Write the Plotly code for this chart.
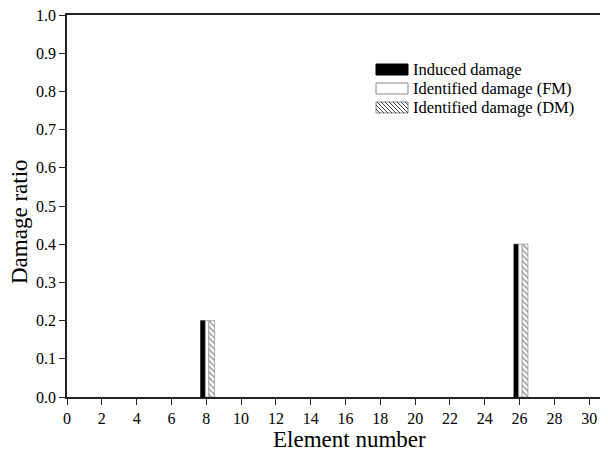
import plotly.graph_objects as go

elements = list(range(1, 31))
induced = [0.0] * 30
induced[7] = 0.2
induced[25] = 0.4
identified_fm = [0.0] * 30
identified_fm[7] = 0.2
identified_fm[25] = 0.4
identified_dm = [0.0] * 30
identified_dm[7] = 0.2
identified_dm[25] = 0.4

series_names = ["Induced damage", "Identified damage (FM)", "Identified damage (DM)"]
x_title = "Element number"
y_title = "Damage ratio"

x_ticks = list(range(0, 31, 2))
y_ticks = [round(i * 0.1, 1) for i in range(11)]

font = "Liberation Serif, Times New Roman, serif"

# page body has an 8px margin; compensate so the plot area lands at x 67..608, y 15..397
BODY = 8
W, H = 608 - BODY, 460 - BODY
ML, MT, MR = 67 - BODY, 15 - BODY, 0
PW, PH = 608 - 67, 397 - 15
MB = H - MT - PH


def nz(vals):
    return [v if v > 0 else None for v in vals]


def px2paper(px, py):
    return (px - 67) / PW, (397 - py) / PH


fig = go.Figure()
fig.add_trace(go.Bar(
    x=elements, y=nz(induced), name=series_names[0],
    marker=dict(color="black", line=dict(color="black", width=0.5)),
    offset=-0.33, width=0.28,
))
fig.add_trace(go.Bar(
    x=elements, y=nz(identified_fm), name=series_names[1],
    marker=dict(color="white", line=dict(color="#999999", width=0.8)),
    offset=-0.05, width=0.2,
))
fig.add_trace(go.Bar(
    x=elements, y=nz(identified_dm), name=series_names[2],
    marker=dict(color="white", line=dict(color="#999999", width=0.8),
                pattern=dict(shape="\\", fgcolor="#222222", bgcolor="white",
                             size=4, solidity=0.35)),
    offset=0.15, width=0.33,
))

# custom legend (wide rectangular keys as in the reference)
shapes = []
annotations = []
key_x0, key_x1 = 376, 408
rows = [(64, 75), (83, 94), (102, 113)]
for i, (top, bot) in enumerate(rows):
    x0, y0 = px2paper(key_x0, bot)
    x1, y1 = px2paper(key_x1, top)
    if i == 0:
        shapes.append(dict(type="rect", xref="paper", yref="paper", x0=x0, y0=y0, x1=x1, y1=y1,
                           fillcolor="black", line=dict(color="black", width=1)))
    else:
        shapes.append(dict(type="rect", xref="paper", yref="paper", x0=x0, y0=y0, x1=x1, y1=y1,
                           fillcolor="white", line=dict(color="#888888", width=1)))
    if i == 2:
        h = bot - top
        k = key_x0 - h
        path = ""
        while k < key_x1:
            sx, sy = k, top
            ex, ey = k + h, bot
            if sx < key_x0:
                sy = top + (key_x0 - sx)
                sx = key_x0
            if ex > key_x1:
                ey = bot - (ex - key_x1)
                ex = key_x1
            if ex > sx:
                a = px2paper(sx, sy)
                b = px2paper(ex, ey)
                path += f"M{a[0]},{a[1]} L{b[0]},{b[1]} "
            k += 4
        shapes.append(dict(type="path", xref="paper", yref="paper", path=path,
                           line=dict(color="#333333", width=0.9)))
    tx, ty = px2paper(411, (top + bot) / 2)
    annotations.append(dict(text=series_names[i], xref="paper", yref="paper", x=tx, y=ty,
                            xanchor="left", yanchor="middle", showarrow=False,
                            font=dict(size=16.5, family=font, color="black")))

# axis titles (placed as in the reference)
xtx, xty = px2paper(349, 440)
annotations.append(dict(text=x_title, xref="paper", yref="paper", x=xtx, y=xty,
                        xanchor="center", yanchor="middle", showarrow=False,
                        font=dict(size=23, family=font, color="black")))
ytx, yty = px2paper(19, 222)
annotations.append(dict(text=y_title, xref="paper", yref="paper", x=ytx, y=yty,
                        xanchor="center", yanchor="middle", showarrow=False, textangle=-90,
                        font=dict(size=23, family=font, color="black")))

fig.update_layout(
    width=W, height=H,
    margin=dict(l=ML, r=MR, t=MT, b=MB, pad=0),
    paper_bgcolor="white", plot_bgcolor="white",
    font=dict(family=font, size=16, color="black"),
    barmode="overlay",
    showlegend=False,
    shapes=shapes,
    annotations=annotations,
    xaxis=dict(
        range=[0, 31.08], tickvals=x_ticks, ticktext=[str(v) for v in x_ticks],
        ticks="outside", ticklen=6, tickwidth=1.3, tickcolor="#222",
        showline=True, linecolor="#222", linewidth=1.5, mirror=True,
        showgrid=False, zeroline=False, automargin=False,
        ticklabeloverflow="allow",
        tickfont=dict(size=16, family=font),
    ),
    yaxis=dict(
        range=[0, 1.0], tickvals=y_ticks, ticktext=[f"{v:.1f}" for v in y_ticks],
        ticks="outside", ticklen=6, tickwidth=1.3, tickcolor="#222",
        showline=True, linecolor="#222", linewidth=1.5, mirror=False,
        showgrid=False, zeroline=False, automargin=False,
        ticklabeloverflow="allow",
        tickfont=dict(size=16, family=font),
    ),
)

fig.write_html("out.html")
